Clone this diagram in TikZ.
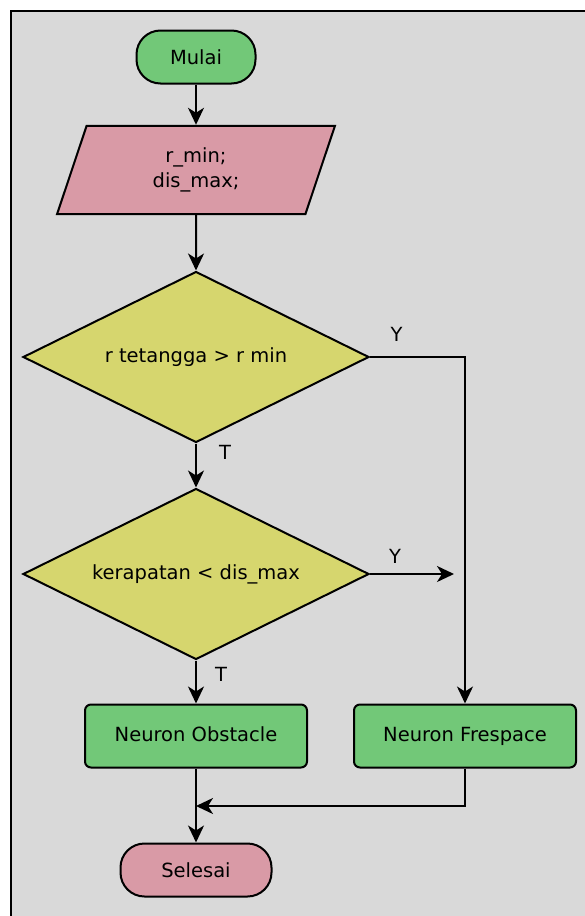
\documentclass[tikz,border=0pt]{standalone}
\usepackage{fontspec}
\setmainfont{DejaVu Sans}
\usetikzlibrary{shapes.geometric,arrows.meta}
\definecolor{hijau}{HTML}{72C878}
\definecolor{merah}{HTML}{D99AA6}
\definecolor{kuning}{HTML}{D6D66E}
\definecolor{latar}{HTML}{D9D9D9}

\begin{document}
\begin{tikzpicture}[x=1pt, y=-1pt, >={Stealth[length=17pt,width=16pt,inset=5pt]},
    every node/.style={font=\fontsize{19.5}{25}\selectfont},
    terminal/.style={draw, line width=2pt, rounded corners=24pt, minimum height=53pt},
    proses/.style={draw, line width=2pt, fill=hijau, rounded corners=6pt, minimum width=222pt, minimum height=63pt, text height=14pt, text depth=4pt},
    masukan/.style={draw, line width=2pt, fill=merah, trapezium, trapezium left angle=71.5, trapezium right angle=108.5, inner xsep=66pt, inner ysep=22pt, align=center},
    keputusan/.style={draw, line width=2pt, fill=kuning, diamond, aspect=2, minimum width=346pt, minimum height=171pt, inner sep=0pt},
    garis/.style={line width=2pt},
    ket/.style={inner sep=0pt}]
    \useasboundingbox (0,0) rectangle (585,916);

    % Latar dan bingkai
    \fill[latar] (11,11) rectangle (585,916);
    \draw[line width=2pt] (11,916) -- (11,11) -- (585,11);

    % Simbol
    \node[terminal, fill=hijau, minimum width=119pt] (mulai) at (196,57) {Mulai};
    \node[masukan] (input) at (196,170) {r\_min;\\dis\_max;};
    \node[keputusan] (cek1) at (196,357) {r tetangga > r min};
    \node[keputusan] (cek2) at (196,574) {kerapatan < dis\_max};
    \node[proses] (obstacle) at (196,736) {Neuron Obstacle};
    \node[proses] (frespace) at (465,736) {Neuron Frespace};
    \node[terminal, fill=merah, minimum width=151pt] (selesai) at (196,870) {Selesai};

    \coordinate (ujung) at (454,574);
    \coordinate (gabung) at (196,806);

    % Alur
    \draw[garis,->] (mulai) -- (input);
    \draw[garis,->] (input) -- (cek1);
    \draw[garis,->] (cek1.east) -| node[pos=0.14, above, ket, yshift=15pt] {Y} (frespace.north);
    \draw[garis,->] (cek1.south) -- node[pos=0.2, right, ket, xshift=22pt] {T} (cek2.north);
    \draw[garis,->] (cek2.east) -- node[pos=0.3, above, ket, yshift=10pt] {Y} (ujung);
    \draw[garis,->] (cek2.south) -- node[pos=0.33, right, ket, xshift=18pt] {T} (obstacle.north);
    \draw[garis,->] (obstacle) -- (selesai);
    \draw[garis,->] (frespace.south) |- (gabung);
\end{tikzpicture}
\end{document}
